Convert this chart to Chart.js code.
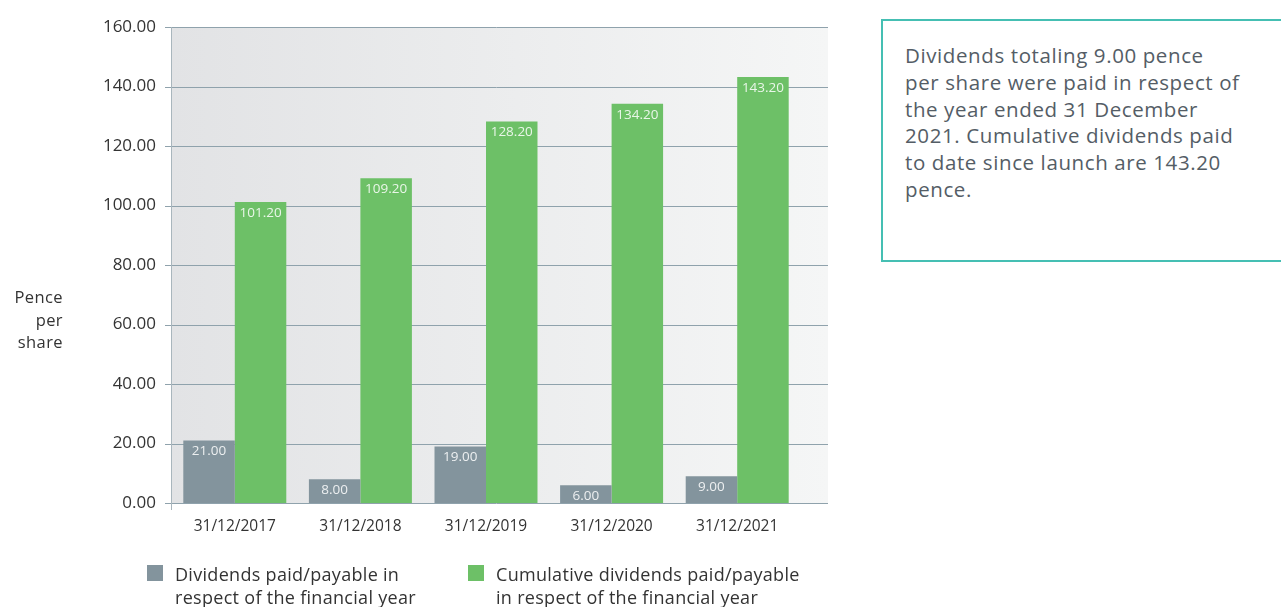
<!DOCTYPE html>
<html>
<head>
<meta charset="utf-8">
<script src="https://cdn.jsdelivr.net/npm/chart.js@4"></script>
<style>
  html, body { margin: 0; padding: 0; background: #fff; }
  body { width: 1281px; height: 607px; position: relative; overflow: hidden; font-family: "Open Sans", sans-serif; color: #333; }
  #wrap { position: absolute; left: 0; top: 0; width: 870px; height: 607px; }
  #yTitle { position: absolute; left: 0; top: 286px; width: 63px; text-align: right; font-size: 16.5px; letter-spacing: 0.4px; line-height: 22.5px; color: #333; }
  #legend { position: absolute; top: 564px; left: 0; }
  .lg { position: absolute; top: 0; font-size: 18px; letter-spacing: 0.3px; line-height: 23px; color: #333; white-space: nowrap; }
  .lg i { position: absolute; left: 0; top: 1px; width: 16px; height: 16px; }
  .lg span { position: absolute; left: 28px; top: -1px; }
  #note { position: absolute; left: 881px; top: 19px; width: 420px; height: 243px; border: 2px solid #45bfb3; box-sizing: border-box; }
  #note p { margin: 0; position: absolute; left: 22px; top: 21px; font-size: 20.5px; letter-spacing: 0.6px; line-height: 26.8px; color: #545d66; white-space: nowrap; }
</style>
</head>
<body>
<div id="wrap"><canvas id="chart" width="870" height="607"></canvas></div>
<div id="yTitle">Pence<br>per<br>share</div>
<div id="legend"></div>
<div id="note"><p>Dividends totaling 9.00 pence<br>per share were paid in respect of<br>the year ended 31 December<br>2021. Cumulative dividends paid<br>to date since launch are 143.20<br>pence.</p></div>
<script>
// --- data ---
const categories = ['31/12/2017', '31/12/2018', '31/12/2019', '31/12/2020', '31/12/2021'];
const yearly = [21.00, 8.00, 19.00, 6.00, 9.00];
const cumulative = [101.20, 109.20, 128.20, 134.20, 143.20];
const seriesNames = [
  ['Dividends paid/payable in', 'respect of the financial year'],
  ['Cumulative dividends paid/payable', 'in respect of the financial year']
];
const yTicks = [0, 20, 40, 60, 80, 100, 120, 140, 160];

const GRAY = '#83949d', GREEN = '#6dc067', GRID = '#8fa2ac';
const PLOT_RIGHT = 828;

// background + gridlines running past the last category
const backdrop = {
  id: 'backdrop',
  beforeDatasetsDraw(chart) {
    const { ctx, chartArea: a, scales: { y } } = chart;
    ctx.save();
    const g = ctx.createLinearGradient(a.left, 0, PLOT_RIGHT, 0);
    g.addColorStop(0, '#e2e3e5');
    g.addColorStop(1, '#f5f6f6');
    ctx.fillStyle = g;
    ctx.fillRect(a.left, a.top, PLOT_RIGHT - a.left, a.bottom - a.top);
    ctx.strokeStyle = GRID;
    ctx.lineWidth = 1;
    y.ticks.forEach(t => {
      const py = Math.round(y.getPixelForValue(t.value)) + 0.5;
      ctx.beginPath();
      ctx.moveTo(a.left - 7, py);
      ctx.lineTo(PLOT_RIGHT, py);
      ctx.stroke();
    });
    ctx.strokeStyle = '#a9b6bd';
    ctx.beginPath();
    ctx.moveTo(a.left - 0.5, a.top);
    ctx.lineTo(a.left - 0.5, a.bottom + 7);
    ctx.stroke();
    ctx.restore();
  }
};

// value labels inside bar tops
const barLabels = {
  id: 'barLabels',
  afterDatasetsDraw(chart) {
    const { ctx } = chart;
    ctx.save();
    ctx.font = '13.5px "Open Sans", sans-serif';
    ctx.fillStyle = 'rgba(255,255,255,0.85)';
    ctx.textAlign = 'center';
    ctx.textBaseline = 'middle';
    chart.data.datasets.forEach((ds, i) => {
      chart.getDatasetMeta(i).data.forEach((bar, j) => {
        ctx.fillText(ds.data[j].toFixed(2), bar.x, bar.y + 11);
      });
    });
    ctx.restore();
  }
};

const chart = new Chart(document.getElementById('chart'), {
  type: 'bar',
  data: {
    labels: categories,
    datasets: [
      { label: seriesNames[0].join(' '), data: yearly, backgroundColor: GRAY },
      { label: seriesNames[1].join(' '), data: cumulative, backgroundColor: GREEN }
    ]
  },
  options: {
    responsive: false,
    animation: false,
    devicePixelRatio: 1,
    layout: { padding: { top: 27, right: 70, bottom: 64, left: 0 } },
    categoryPercentage: 0.82,
    barPercentage: 1,
    plugins: { legend: { display: false }, tooltip: { enabled: false } },
    scales: {
      x: {
        grid: { display: false },
        border: { display: false },
        ticks: { color: '#333', font: { family: 'Open Sans', size: 15.5 }, padding: 6, maxRotation: 0 },
        afterFit: s => { s.height = 40; }
      },
      y: {
        min: 0, max: 160,
        afterBuildTicks: s => { s.ticks = yTicks.map(v => ({ value: v })); },
        grid: { display: false },
        border: { display: false },
        ticks: { color: '#333', font: { family: 'Open Sans', size: 17 }, padding: 8, callback: v => v.toFixed(2) },
        afterFit: s => { s.width = 172; }
      }
    }
  },
  plugins: [backdrop, barLabels]
});

// legend from datasets
const lg = document.getElementById('legend');
const lgLeft = [147, 468];
chart.data.datasets.forEach((ds, i) => {
  const d = document.createElement('div');
  d.className = 'lg';
  d.style.left = lgLeft[i] + 'px';
  d.innerHTML = `<i style="background:${ds.backgroundColor}"></i><span>${seriesNames[i].join('<br>')}</span>`;
  lg.appendChild(d);
});
</script>
</body>
</html>
